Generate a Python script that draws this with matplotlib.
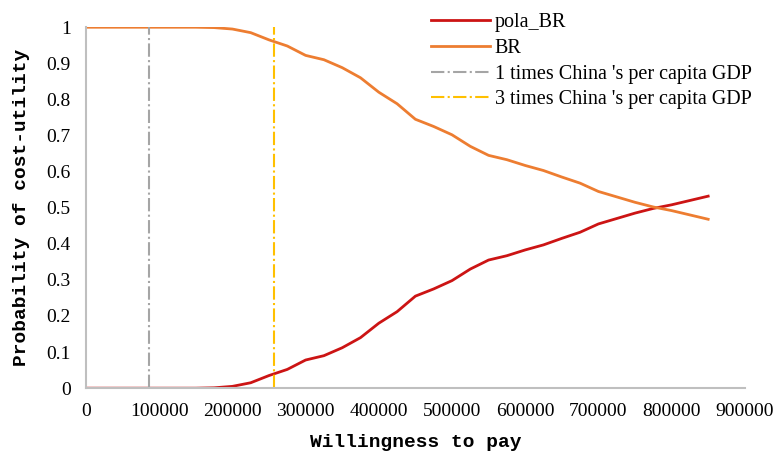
import matplotlib
matplotlib.use("Agg")
import matplotlib.pyplot as plt

# Willingness to pay (x) and probability of cost-utility for each strategy
wtp = [0, 25000, 50000, 75000, 100000, 125000, 150000, 175000, 200000, 225000,
       250000, 275000, 300000, 325000, 350000, 375000, 400000, 425000, 450000,
       475000, 500000, 525000, 550000, 575000, 600000, 625000, 650000, 675000,
       700000, 725000, 750000, 775000, 800000, 825000, 850000]
pola_br = [0, 0, 0, 0, 0, 0, 0, 0.001, 0.005, 0.015,
           0.035, 0.052, 0.078, 0.09, 0.112, 0.14, 0.18, 0.212, 0.255,
           0.275, 0.298, 0.33, 0.355, 0.367, 0.383, 0.397, 0.415, 0.432,
           0.455, 0.47, 0.485, 0.498, 0.508, 0.52, 0.532]
br = [1, 1, 1, 1, 1, 1, 1, 0.999, 0.995, 0.985,
      0.965, 0.948, 0.922, 0.91, 0.888, 0.86, 0.82, 0.788, 0.745,
      0.725, 0.702, 0.67, 0.645, 0.633, 0.617, 0.603, 0.585, 0.568,
      0.545, 0.53, 0.515, 0.502, 0.492, 0.48, 0.468]

gdp_1x = 85698
gdp_3x = 257094

fig = plt.figure(figsize=(7.75, 4.54), dpi=100)
ax = fig.add_axes([0.111, 0.145, 0.85, 0.795])

ax.plot(wtp, pola_br, color="#cc1414", lw=2, label="pola_BR")
ax.plot(wtp, br, color="#ed7d31", lw=2, label="BR")
ax.axvline(gdp_1x, color="#a5a5a5", lw=1.5, ls="-.",
           label="1 times China 's per capita GDP")
ax.axvline(gdp_3x, color="#ffc000", lw=1.5, ls="-.",
           label="3 times China 's per capita GDP")

ax.set_xlim(0, 900000)
ax.set_ylim(0, 1)
ax.set_xticks(range(0, 900001, 100000))
ax.set_yticks([i / 10 for i in range(11)])
ax.set_yticklabels(["0", "0.1", "0.2", "0.3", "0.4", "0.5", "0.6", "0.7", "0.8", "0.9", "1"])
ax.tick_params(length=0, labelsize=14, pad=11)
for lab in ax.get_xticklabels() + ax.get_yticklabels():
    lab.set_fontfamily("Liberation Serif")

for s in ["top", "right"]:
    ax.spines[s].set_visible(False)
for s in ["left", "bottom"]:
    ax.spines[s].set_color("#bfbfbf")
    ax.spines[s].set_linewidth(1.5)

ax.set_xlabel("Willingness to pay", family="Liberation Mono", weight="bold",
              fontsize=14, labelpad=10)
ax.set_ylabel("Probability of cost-utility", family="Liberation Mono", weight="bold",
              fontsize=14, labelpad=12)

fig.legend(loc="upper left", bbox_to_anchor=(0.533, 1.011), frameon=False,
           prop={"family": "Liberation Serif", "size": 14.5}, handlelength=2.9,
           handletextpad=0.25, labelspacing=0.33)

fig.savefig("out.png", dpi=100)
